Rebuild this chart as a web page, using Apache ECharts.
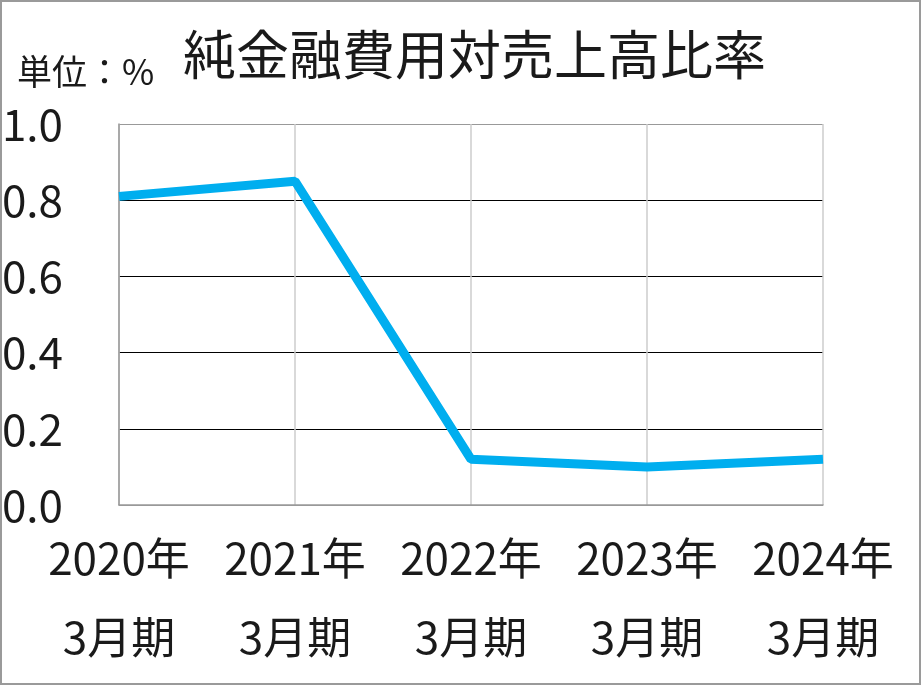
<!DOCTYPE html>
<html>
<head>
<meta charset="UTF-8">
<title>純金融費用対売上高比率</title>
<script src="https://cdn.jsdelivr.net/npm/echarts@6/dist/echarts.min.js"></script>
<style>
  html, body { margin: 0; padding: 0; background: #fff; }
  #main { width: 921px; height: 685px; }
</style>
</head>
<body>
<div id="main"></div>
<script type="text/javascript">
// データ
var years = ['2020年', '2021年', '2022年', '2023年', '2024年'];
var periods = ['3月期', '3月期', '3月期', '3月期', '3月期'];
var ratio = [0.81, 0.85, 0.12, 0.10, 0.12];
var yTicks = [0.0, 0.2, 0.4, 0.6, 0.8, 1.0];

var font = '"Noto Sans CJK JP", "Noto Sans", sans-serif';
var categories = years.map(function (y, i) { return y + '\n' + periods[i]; });

var option = {
  backgroundColor: '#fff',
  animation: false,
  title: {
    text: '純金融費用対売上高比率',
    left: 183,
    top: 28,
    padding: 0,
    textStyle: { fontFamily: font, fontSize: 53, fontWeight: 'normal', color: '#1a1a1a' }
  },
  graphic: [
    {
      type: 'rect',
      shape: { x: 1, y: 1, width: 919, height: 683 },
      style: { fill: 'none', stroke: '#9a9a9a', lineWidth: 2 },
      silent: true
    },
    {
      type: 'text',
      left: 17,
      top: 54,
      style: { text: '単位：%', fontFamily: font, fontSize: 35, fill: '#1a1a1a' }
    }
  ],
  grid: { left: 119, right: 98, top: 124, bottom: 180, outerBoundsMode: 'none' },
  xAxis: {
    type: 'category',
    data: categories,
    boundaryGap: false,
    axisLine: { lineStyle: { color: '#999', width: 1.5 } },
    axisTick: { show: false },
    splitLine: { show: true, interval: 0, lineStyle: { color: '#ccc', width: 1.5 } },
    axisLabel: {
      interval: 0,
      hideOverlap: false,
      margin: 14,
      fontFamily: font,
      fontSize: 44,
      lineHeight: 79,
      color: '#1a1a1a'
    }
  },
  yAxis: {
    type: 'value',
    min: 0,
    max: 1.0,
    interval: 0.2,
    axisLine: { show: true, lineStyle: { color: '#999', width: 1.5 } },
    axisTick: { show: false },
    splitLine: {
      lineStyle: { color: ['#999', '#000', '#000', '#000', '#000', '#999'], width: 1.2 }
    },
    axisLabel: {
      margin: 56,
      fontFamily: font,
      fontSize: 44,
      color: '#1a1a1a',
      padding: [0, 0, 8, 0],
      formatter: function (v) {
        var t = yTicks.filter(function (k) { return Math.abs(k - v) < 1e-9; });
        return t.length ? t[0].toFixed(1) : '';
      }
    }
  },
  series: [{
    type: 'line',
    data: ratio,
    symbol: 'none',
    lineStyle: { color: '#00aeef', width: 9 },
    z: 5
  }]
};

var chart = echarts.init(document.getElementById('main'));
chart.setOption(option);
</script>
</body>
</html>
